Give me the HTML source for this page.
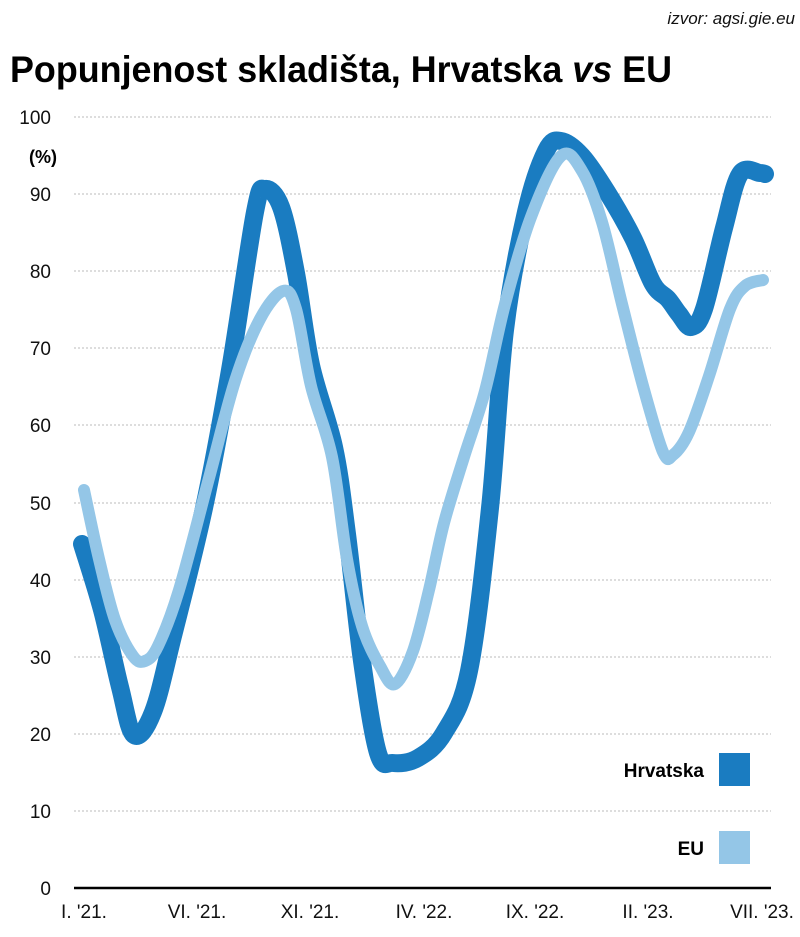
<!DOCTYPE html>
<html><head><meta charset="utf-8"><style>
html,body{margin:0;padding:0;background:#fff;}
svg{display:block;font-family:"Liberation Sans",sans-serif;}
</style></head><body>
<svg width="800" height="937" viewBox="0 0 800 937" xmlns="http://www.w3.org/2000/svg">
<text x="795" y="24" text-anchor="end" font-size="17" font-style="italic" fill="#111">izvor: agsi.gie.eu</text>
<text x="10" y="82" font-size="37" font-weight="bold" fill="#000" textLength="662" lengthAdjust="spacingAndGlyphs">Popunjenost skladišta, Hrvatska <tspan font-style="italic">vs</tspan> EU</text>
<g stroke="#bbb" stroke-width="1" stroke-dasharray="2,2">
<line x1="74" x2="771" y1="117" y2="117"/><line x1="74" x2="771" y1="194" y2="194"/>
<line x1="74" x2="771" y1="271" y2="271"/><line x1="74" x2="771" y1="348" y2="348"/>
<line x1="74" x2="771" y1="425" y2="425"/><line x1="74" x2="771" y1="503" y2="503"/>
<line x1="74" x2="771" y1="580" y2="580"/><line x1="74" x2="771" y1="657" y2="657"/>
<line x1="74" x2="771" y1="734" y2="734"/><line x1="74" x2="771" y1="811" y2="811"/>
</g>
<g font-size="19" fill="#111" text-anchor="end">
<text x="51" y="124">100</text><text x="51" y="201">90</text><text x="51" y="278">80</text>
<text x="51" y="355">70</text><text x="51" y="432">60</text><text x="51" y="510">50</text>
<text x="51" y="587">40</text><text x="51" y="664">30</text><text x="51" y="741">20</text>
<text x="51" y="818">10</text><text x="51" y="895">0</text>
</g>
<text x="57" y="163" font-size="18" font-weight="bold" text-anchor="end">(%)</text>
<path id="hr" fill="none" stroke="#1a7cc1" stroke-width="18" stroke-linecap="round" stroke-linejoin="round"/>
<path id="eu" fill="none" stroke="#94c6e7" stroke-width="12" stroke-linecap="round" stroke-linejoin="round"/>
<line x1="74" x2="771" y1="888" y2="888" stroke="#000" stroke-width="2.5"/>
<g font-size="19" fill="#111" text-anchor="middle">
<text x="84" y="918">I. '21.</text><text x="197" y="918">VI. '21.</text><text x="310" y="918">XI. '21.</text>
<text x="424" y="918">IV. '22.</text><text x="535" y="918">IX. '22.</text><text x="648" y="918">II. '23.</text>
<text x="762" y="918">VII. '23.</text>
</g>
<rect x="719" y="753" width="31" height="33" fill="#1a7cc1"/>
<rect x="719" y="831" width="31" height="33" fill="#94c6e7"/>
<text x="704" y="777" font-size="19" font-weight="bold" text-anchor="end">Hrvatska</text>
<text x="704" y="855" font-size="19" font-weight="bold" text-anchor="end">EU</text>
</svg>
<script>
function cr(p){var d="M"+p[0][0]+","+p[0][1];for(var i=0;i<p.length-1;i++){var a=p[i-1]||p[i],b=p[i],c=p[i+1],e=p[i+2]||c;
d+=" C"+(b[0]+(c[0]-a[0])/6)+","+(b[1]+(c[1]-a[1])/6)+" "+(c[0]-(e[0]-b[0])/6)+","+(c[1]-(e[1]-b[1])/6)+" "+c[0]+","+c[1];}return d;}
var hr=[[82,544],[102,610],[120,687],[134,735],[153,712],[173,636],[204,508],[230,370],[255,212],[265,189],[281,207],[296,273],[311,365],[334,447],[347,534],[362,661],[378,753],[393,763],[418,758],[444,733],[469,671],[490,508],[505,330],[526,212],[546,151],[561,141],[582,156],[607,192],[633,238],[653,284],[668,299],[679,314],[691,327],[704,309],[724,228],[740,174],[760,173],[765,174]];
var eu=[[84,490],[99,559],[115,620],[133,656],[145,661],[158,646],[179,590],[209,478],[235,381],[260,319],[283,291],[296,309],[311,386],[332,457],[347,559],[362,626],[380,666],[395,684],[413,651],[429,590],[444,523],[464,457],[485,391],[505,304],[531,217],[561,156],[582,171],[602,222],[622,304],[643,386],[663,452],[673,455],[689,432],[709,376],[730,309],[745,286],[763,280]];
document.getElementById("hr").setAttribute("d",cr(hr));
document.getElementById("eu").setAttribute("d",cr(eu));
</script>
</body></html>
